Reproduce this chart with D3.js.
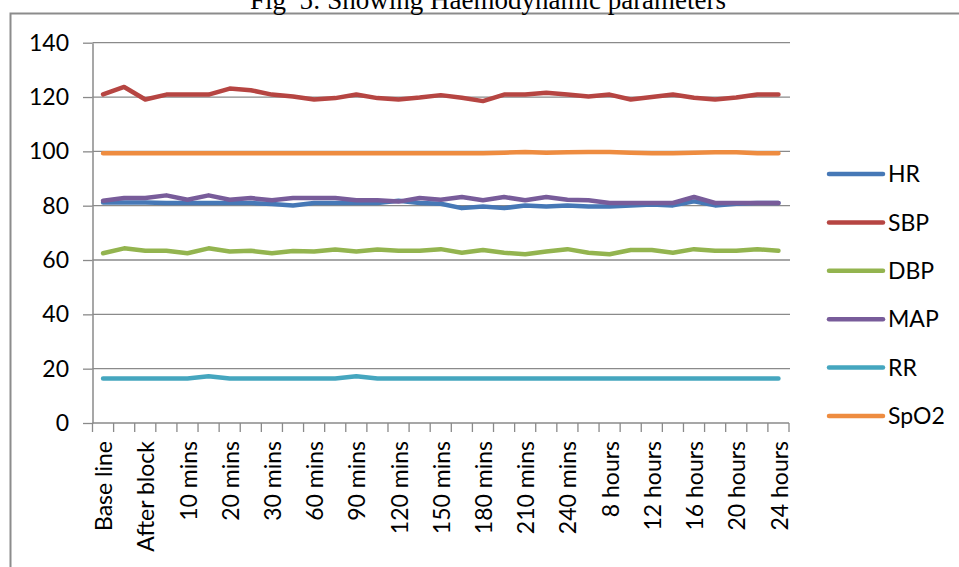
<!DOCTYPE html>
<html>
<head>
<meta charset="utf-8">
<script src="https://cdn.jsdelivr.net/npm/d3@7/dist/d3.min.js"></script>
<style>
  html, body { margin: 0; padding: 0; background: #fff; }
  svg { display: block; }
  text { font-family: "Lato", "Open Sans", sans-serif; fill: #000; }
</style>
</head>
<body>
<svg id="chart" width="959" height="567"></svg>
<script>
// Time points of the haemodynamic record (every second one is labelled on the axis)
const categories = [
  "Base line", "Pre-block", "After block", "5 mins", "10 mins", "15 mins", "20 mins",
  "25 mins", "30 mins", "45 mins", "60 mins", "75 mins", "90 mins", "105 mins",
  "120 mins", "135 mins", "150 mins", "165 mins", "180 mins", "195 mins", "210 mins",
  "225 mins", "240 mins", "6 hours", "8 hours", "10 hours", "12 hours", "14 hours",
  "16 hours", "18 hours", "20 hours", "22 hours", "24 hours"
];

const seriesNames = ["HR", "SBP", "DBP", "MAP", "RR", "SpO2"];
const seriesColors = ["#4678b6", "#b64542", "#93b44f", "#785c9a", "#45a6bf", "#ee8c40"];

const hr = [81.2, 81.2, 81.2, 81, 81, 81, 81, 81, 80.6, 80.1, 81, 81, 81, 81,
  81.8, 81, 80.7, 79.1, 79.7, 79.1, 80.1, 79.7, 80.1, 79.7, 79.7, 80.1, 80.4,
  80.1, 81.6, 80.1, 80.7, 81, 81];
const sbp = [121, 123.7, 119.1, 120.9, 120.9, 120.9, 123.1, 122.5, 120.9, 120.2,
  119.1, 119.6, 120.9, 119.6, 119.1, 119.8, 120.7, 119.7, 118.5, 120.9, 120.9,
  121.6, 120.9, 120.2, 120.9, 119.1, 120, 120.9, 119.7, 119.1, 119.8, 120.9, 120.9];
const dbp = [62.5, 64.3, 63.4, 63.4, 62.5, 64.3, 63.1, 63.4, 62.5, 63.3, 63.1,
  63.9, 63.1, 63.9, 63.4, 63.4, 64, 62.7, 63.7, 62.7, 62.1, 63.1, 64, 62.7, 62.1,
  63.7, 63.7, 62.7, 64, 63.4, 63.4, 64, 63.4];
const map = [81.8, 82.8, 82.8, 83.8, 82.2, 83.8, 82.2, 82.8, 82, 82.8, 82.8,
  82.8, 82, 82, 81.5, 82.8, 82.2, 83.2, 82, 83.2, 82, 83.2, 82.2, 82, 81, 81, 81,
  81, 83.2, 81, 81, 81, 81];
const rr = [16.4, 16.4, 16.4, 16.4, 16.4, 17.2, 16.4, 16.4, 16.4, 16.4, 16.4,
  16.4, 17.2, 16.4, 16.4, 16.4, 16.4, 16.4, 16.4, 16.4, 16.4, 16.4, 16.4, 16.4,
  16.4, 16.4, 16.4, 16.4, 16.4, 16.4, 16.4, 16.4, 16.4];
const spo2 = [99.3, 99.3, 99.3, 99.3, 99.3, 99.3, 99.3, 99.3, 99.3, 99.3, 99.3,
  99.3, 99.3, 99.3, 99.3, 99.3, 99.3, 99.3, 99.3, 99.5, 99.8, 99.5, 99.7, 99.8,
  99.8, 99.5, 99.3, 99.3, 99.5, 99.7, 99.7, 99.3, 99.3];

const yTicks = [0, 20, 40, 60, 80, 100, 120, 140];
const title = "Fig  5: Showing Haemodynamic parameters";

const seriesValues = [hr, sbp, dbp, map, rr, spo2];
const series = seriesNames.map((name, i) => ({
  name, color: seriesColors[i], values: seriesValues[i]
}));

const svg = d3.select("#chart");
const gridColor = "#8a8a8a";

// Layout
const plot = { left: 92.5, right: 789, top: 42.7, bottom: 423 };

// Outer chart frame
svg.append("rect")
  .attr("x", 10.5).attr("y", 13.5)
  .attr("width", 1000).attr("height", 600)
  .attr("fill", "none").attr("stroke", "#8c8c8c").attr("stroke-width", 2);

// Caption above the frame
svg.append("text")
  .attr("x", 488).attr("y", 9)
  .attr("text-anchor", "middle")
  .style("white-space", "pre")
  .style("font-family", "'Liberation Serif', 'Times New Roman', serif")
  .style("font-size", "27px")
  .text(title);

const x = d3.scaleBand().domain(categories).range([plot.left, plot.right]).padding(0);
const y = d3.scaleLinear().domain([0, 140]).range([plot.bottom, plot.top]);

// Horizontal gridlines
svg.append("g")
  .selectAll("line")
  .data(yTicks.filter(d => d > 0))
  .join("line")
  .attr("x1", plot.left).attr("x2", plot.right + 1)
  .attr("y1", d => y(d)).attr("y2", d => y(d))
  .attr("stroke", gridColor).attr("stroke-width", 1.3);

// Y axis
const yAxis = svg.append("g")
  .attr("transform", `translate(${plot.left},0)`)
  .call(d3.axisLeft(y).tickValues(yTicks).tickSize(9.5).tickPadding(14).tickSizeOuter(0));
yAxis.select(".domain").attr("stroke", gridColor).attr("stroke-width", 1.5);
yAxis.selectAll(".tick line").attr("stroke", gridColor).attr("stroke-width", 1.3);
yAxis.selectAll(".tick text").style("font-size", "23px").style("font-family", "Lato").attr("fill", "#000");

// X axis: ticks on category boundaries, labels on every other category
const xAxisG = svg.append("g").attr("transform", `translate(0,${plot.bottom})`);
xAxisG.append("line")
  .attr("x1", plot.left).attr("x2", plot.right)
  .attr("stroke", gridColor).attr("stroke-width", 1.5);
const boundaries = d3.range(categories.length + 1).map(i => plot.left + i * x.step());
xAxisG.selectAll("line.tk")
  .data(boundaries)
  .join("line")
  .attr("class", "tk")
  .attr("x1", d => d).attr("x2", d => d)
  .attr("y1", 0).attr("y2", 9)
  .attr("stroke", gridColor).attr("stroke-width", 1.3);
xAxisG.selectAll("text")
  .data(categories.filter((d, i) => i % 2 === 0))
  .join("text")
  .attr("transform", d => `translate(${x(d) + x.bandwidth() / 2 + 1},18) rotate(-90)`)
  .attr("text-anchor", "end")
  .attr("dy", "0.35em")
  .style("font-size", "23px")
  .text(d => d);

// Series lines
const line = d3.line()
  .x((d, i) => x(categories[i]) + x.bandwidth() / 2)
  .y(d => y(d));

svg.append("g")
  .selectAll("path")
  .data(series)
  .join("path")
  .attr("d", d => line(d.values))
  .attr("fill", "none")
  .attr("stroke", d => d.color)
  .attr("stroke-width", 4.5)
  .attr("stroke-linejoin", "round")
  .attr("stroke-linecap", "round");

// Legend
const legend = svg.append("g").attr("transform", "translate(829,174)");
const item = legend.selectAll("g")
  .data(series)
  .join("g")
  .attr("transform", (d, i) => `translate(0,${i * 48.4})`);
item.append("line")
  .attr("x1", 0).attr("x2", 54)
  .attr("stroke", d => d.color)
  .attr("stroke-width", 4.5)
  .attr("stroke-linecap", "round");
item.append("text")
  .attr("x", 59).attr("dy", "0.36em")
  .style("font-size", "23px")
  .text(d => d.name);
</script>
</body>
</html>
